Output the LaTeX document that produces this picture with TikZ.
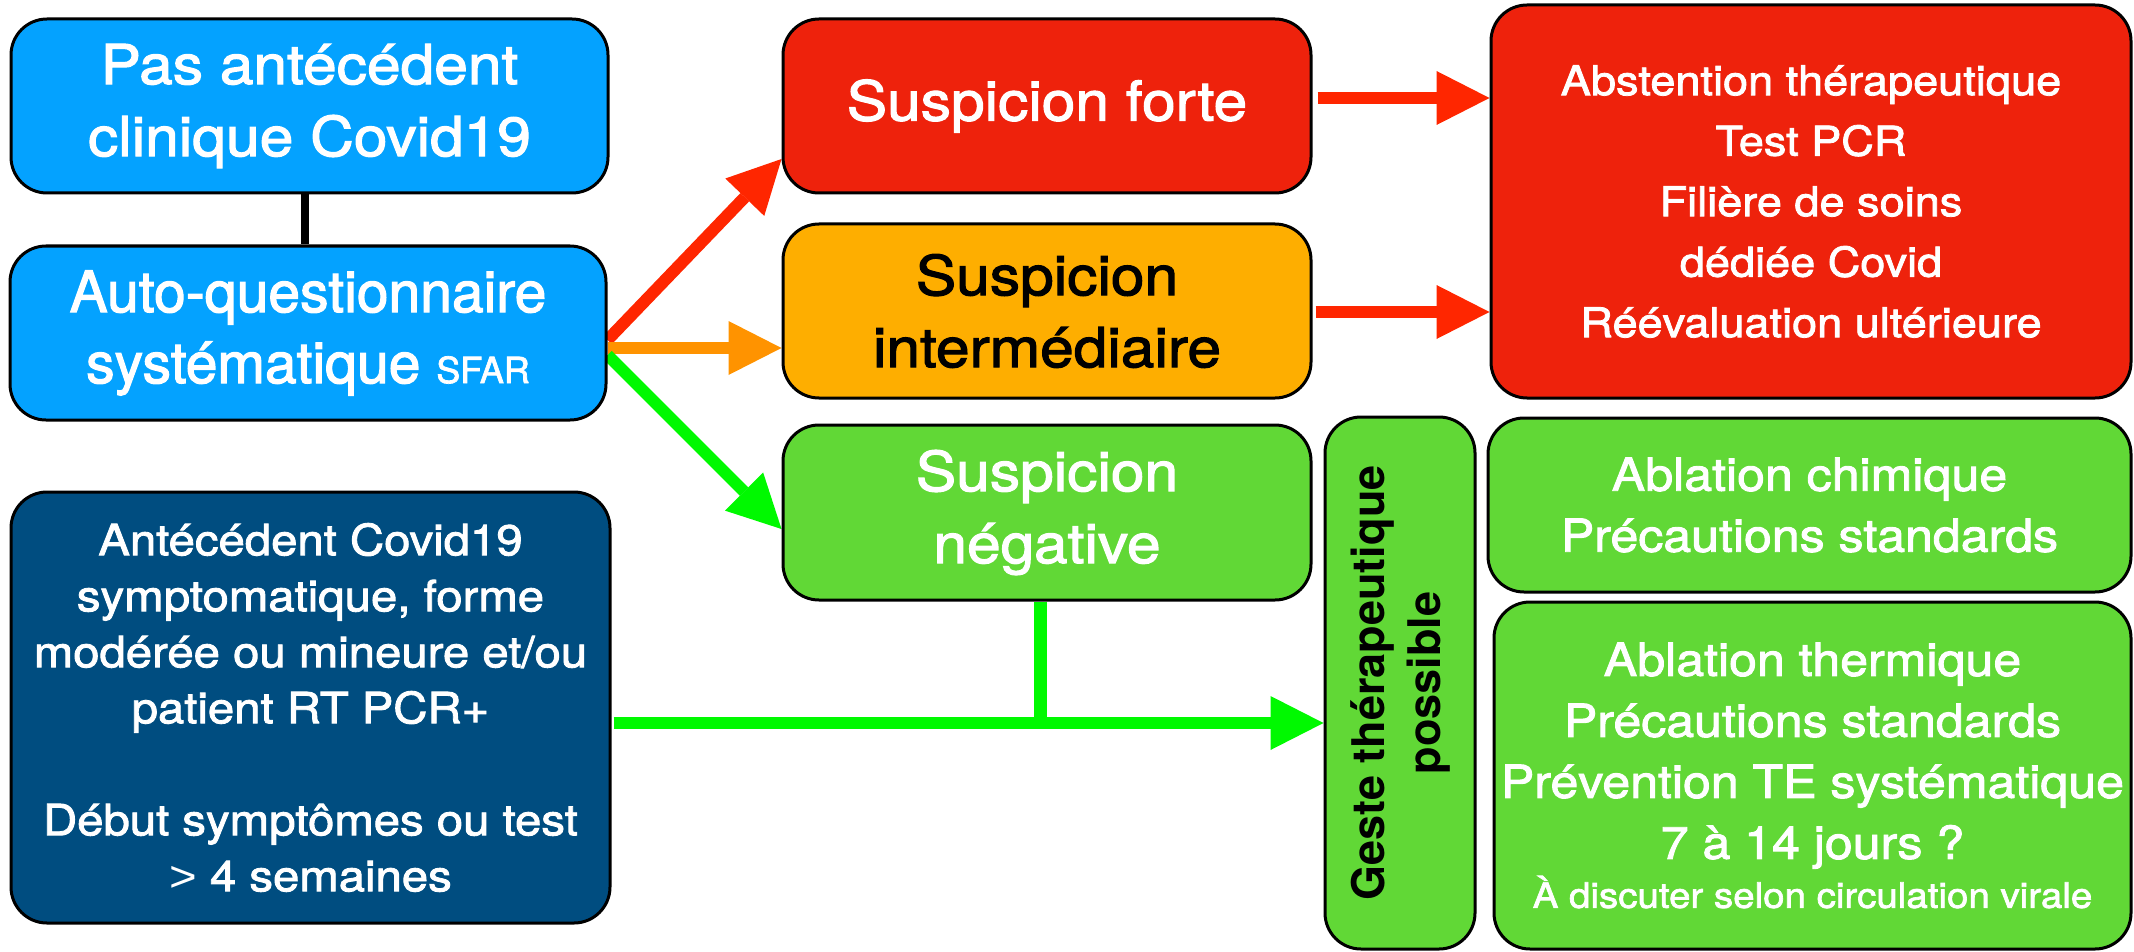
\documentclass[tikz,border=0pt]{standalone}
\usepackage{fontspec}
\setmainfont{TeX Gyre Heros}
\newfontfamily\hvw[FakeStretch=1.1,FakeBold=2]{TeX Gyre Heros}
\newfontfamily\hvn[FakeBold=2]{TeX Gyre Heros}
\newfontfamily\hvb{TeX Gyre Heros}
\newfontfamily\libs[FakeStretch=1.1]{Liberation Sans}
\usetikzlibrary{arrows.meta,calc,backgrounds}
\definecolor{lblue}{RGB}{4,162,255}
\definecolor{dblue}{RGB}{0,77,128}
\definecolor{kred}{RGB}{238,34,12}
\definecolor{korange}{RGB}{254,174,0}
\definecolor{kgreen}{RGB}{97,216,54}
\definecolor{rarrc}{RGB}{255,38,0}
\definecolor{oarrc}{RGB}{255,147,0}
\definecolor{garrc}{RGB}{0,249,0}
\tikzset{
  box/.style={draw=black, line width=1.5pt, rounded corners=18pt, inner sep=0pt, align=center, text=white},
  arr/.style={line width=6pt, -{Triangle[length=26.5pt,width=27pt,line width=0pt]}},
  bigfont/.style={font=\hvw\fontsize{27.5}{36}\selectfont},
}
\begin{document}
\begin{tikzpicture}[x=0.5pt,y=-0.5pt]
\useasboundingbox (0,0) rectangle (2134,952);
\node[box, fill=lblue, minimum width=298.5pt, minimum height=87pt, bigfont] (pas) at (309.5,106) {Pas antécédent\\clinique Covid19};
\node[box, fill=lblue, minimum width=298pt, minimum height=87pt, font=\hvn\fontsize{28.5}{35.5}\selectfont] (auto) at (308,333) {Auto-questionnaire\\systématique {\fontsize{18}{18}\selectfont SFAR}};
\node[box, fill=dblue, minimum width=299.5pt, minimum height=215.5pt, font=\hvw\fontsize{21.5}{28}\selectfont] (ant) at (310.5,707.5) {Antécédent Covid19\\symptomatique, forme\\modérée ou mineure et/ou\\patient RT PCR+\\[28pt]Début symptômes ou test\\{\libs >} 4 semaines};
\node[box, fill=kred, minimum width=264pt, minimum height=87pt, bigfont] (forte) at (1047,106) {Suspicion forte};
\node[box, fill=korange, text=black, minimum width=264pt, minimum height=87pt, bigfont] (inter) at (1047,311) {Suspicion\\intermédiaire};
\node[box, fill=kgreen, minimum width=264pt, minimum height=87.5pt, bigfont] (neg) at (1047,512.5) {Suspicion\\négative};
\node[box, fill=kgreen, text=black, rotate=90, minimum width=266pt, minimum height=75pt, font=\hvb\bfseries\fontsize{22.5}{28}\selectfont] (geste) at (1400,683) {Geste thérapeutique\\possible};
\node[box, fill=kred, minimum width=320pt, minimum height=196.5pt, font=\hvw\fontsize{20.5}{30.25}\selectfont] (bigred) at (1811,201.5) {Abstention thérapeutique\\Test PCR\\Filière de soins\\dédiée Covid\\Réévaluation ultérieure};
\node[box, fill=kgreen, minimum width=321.5pt, minimum height=87pt, font=\hvw\fontsize{22.75}{30.5}\selectfont] (chim) at (1809.5,505) {Ablation chimique\\Précautions standards};
\node[box, fill=kgreen, minimum width=318.5pt, minimum height=173.5pt, font=\hvw\fontsize{22.75}{30.5}\selectfont] (therm) at (1812.5,775.5) {Ablation thermique\\Précautions standards\\Prévention TE systématique\\7 à 14 jours ?\\[-6pt]{\fontsize{17.5}{20}\selectfont À discuter selon circulation virale}};
\begin{scope}[on background layer]
\draw[line width=4pt] ([xshift=-2.5pt]pas.south) -- ([xshift=-2.5pt]pas.south |- auto.north);
\draw[arr, rarrc] ([yshift=-3.5pt]auto.east) -- ([yshift=-26.5pt]forte.west);
\draw[arr, oarrc] ([yshift=-7.5pt]auto.east) -- ([yshift=-7.5pt]auto.east -| inter.west);
\draw[arr, garrc] ([yshift=-11pt]auto.east) -- ([yshift=-8.25pt]neg.west);
\draw[arr, rarrc] ([yshift=4pt,xshift=2.5pt]forte.east) -- ([yshift=4pt]forte.east -| bigred.west);
\draw[arr, rarrc] ([yshift=-0.5pt,xshift=1.5pt]inter.east) -- ([yshift=-0.5pt]inter.east -| bigred.west);
\coordinate (hs) at ([yshift=-7.75pt,xshift=1pt]ant.east);
\draw[arr, garrc] (hs) -- (hs -| geste.north);
\draw[line width=6.5pt, garrc] ([xshift=-3.5pt]neg.south) -- ([xshift=-3.5pt]neg.south |- hs);
\end{scope}
\end{tikzpicture}
\end{document}
